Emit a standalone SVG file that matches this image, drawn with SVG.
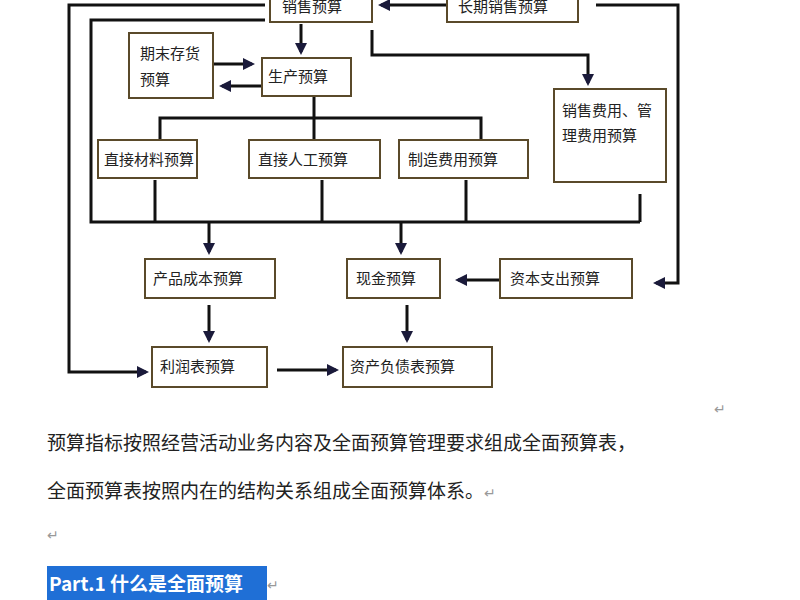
<svg xmlns="http://www.w3.org/2000/svg" width="800" height="600" viewBox="0 0 800 600">
<style>
.b{fill:#fff;stroke:#5a4a2a;stroke-width:2}
.t{font-family:"Noto Sans CJK SC",sans-serif;font-size:15px;fill:#222}
.c line,.c polyline{stroke:#111;stroke-width:3;fill:none}
.a{marker-end:url(#ar)}
.p{font-family:"Noto Sans CJK SC",sans-serif;font-size:19px;fill:#222}
.r{font-family:"Noto Sans CJK SC",sans-serif;font-size:14px;fill:#999}
</style>
<defs><marker id="ar" markerWidth="4" markerHeight="4" refX="3" refY="2" orient="auto" markerUnits="strokeWidth"><path d="M0,0L4,2L0,4z" fill="#1a1a3a"/></marker></defs>
<rect width="800" height="600" fill="#fff"/>
<g class="c">
<polyline points="265,5 69,5 69,372 146,372" class="a"/>
<polyline points="265,20 91,20 91,222 640,222"/>
<polyline points="596,5 678,5 678,283 656,283" class="a"/>
<line x1="447" y1="5" x2="381" y2="5" class="a"/>
<line x1="301" y1="24" x2="301" y2="52" class="a"/>
<polyline points="372,30 372,55 588,55 588,83" class="a"/>
<line x1="213" y1="64" x2="252" y2="64" class="a"/>
<line x1="262" y1="86" x2="222" y2="86" class="a"/>
<polyline points="314,96 314,140"/>
<polyline points="160,140 160,118 481,118 481,140"/>
<line x1="155" y1="180" x2="155" y2="222"/>
<line x1="322" y1="180" x2="322" y2="222"/>
<line x1="466" y1="180" x2="466" y2="222"/>
<line x1="640" y1="194" x2="640" y2="222"/>
<line x1="209" y1="222" x2="209" y2="252" class="a"/>
<line x1="401" y1="222" x2="401" y2="252" class="a"/>
<line x1="500" y1="280" x2="458" y2="280" class="a"/>
<line x1="209" y1="305" x2="209" y2="340" class="a"/>
<line x1="407" y1="305" x2="407" y2="340" class="a"/>
<line x1="277" y1="370" x2="336" y2="370" class="a"/>
</g>
<g id="n1"><rect class="b" x="270" y="-5" width="102" height="27"/><text class="t" x="282" y="12">销售预算</text></g>
<g id="n2"><rect class="b" x="447" y="-5" width="131" height="27"/><text class="t" x="458" y="12">长期销售预算</text></g>
<g id="n3"><rect class="b" x="129" y="33" width="84" height="65"/><text class="t" x="140" y="59">期末存货</text><text class="t" x="140" y="85">预算</text></g>
<g id="n4"><rect class="b" x="262" y="58" width="89" height="38"/><text class="t" x="268" y="82">生产预算</text></g>
<g id="n5"><rect class="b" x="554" y="89" width="112" height="93"/><text class="t" x="562" y="116">销售费用、管</text><text class="t" x="562" y="141">理费用预算</text></g>
<g id="n6"><rect class="b" x="98" y="140" width="99" height="38"/><text class="t" x="104" y="165">直接材料预算</text></g>
<g id="n7"><rect class="b" x="249" y="140" width="131" height="38"/><text class="t" x="258" y="165">直接人工预算</text></g>
<g id="n8"><rect class="b" x="399" y="140" width="129" height="38"/><text class="t" x="408" y="165">制造费用预算</text></g>
<g id="n9"><rect class="b" x="145" y="259" width="130" height="39"/><text class="t" x="153" y="284">产品成本预算</text></g>
<g id="n10"><rect class="b" x="347" y="259" width="93" height="39"/><text class="t" x="356" y="284">现金预算</text></g>
<g id="n11"><rect class="b" x="500" y="259" width="132" height="39"/><text class="t" x="510" y="284">资本支出预算</text></g>
<g id="n12"><rect class="b" x="152" y="347" width="115" height="40"/><text class="t" x="160" y="372">利润表预算</text></g>
<g id="n13"><rect class="b" x="343" y="347" width="149" height="40"/><text class="t" x="350" y="372">资产负债表预算</text></g>
<text class="r" x="714" y="414">↵</text>
<text class="p" x="47" y="450">预算指标按照经营活动业务内容及全面预算管理要求组成全面预算表，</text>
<text class="p" x="47" y="498">全面预算表按照内在的结构关系组成全面预算体系。<tspan class="r">↵</tspan></text>
<text class="r" x="47" y="540">↵</text>
<rect x="47" y="566" width="220" height="34" fill="#1f6fd6"/>
<text x="49" y="591" font-family="Noto Sans CJK SC,sans-serif" font-size="19" font-weight="bold" fill="#fff">Part.1  什么是全面预算</text>
<text class="r" x="267" y="590">↵</text>
</svg>
